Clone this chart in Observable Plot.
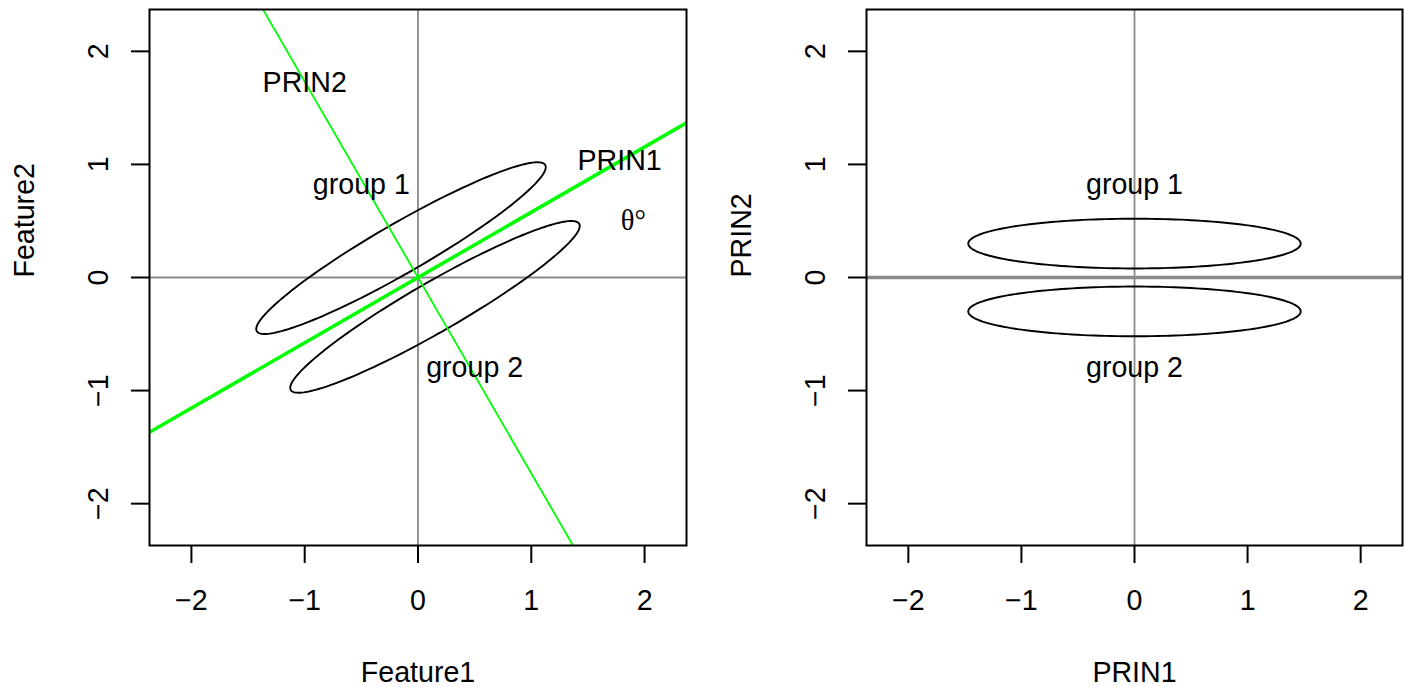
<!DOCTYPE html>
<html>
<head>
<meta charset="utf-8">
<script src="https://cdn.jsdelivr.net/npm/d3@7"></script>
<script src="https://cdn.jsdelivr.net/npm/@observablehq/plot@0.6"></script>
<style>
  body { margin: 0; background: #ffffff; }
  #wrap { display: flex; width: 1404px; height: 687px; }
</style>
</head>
<body>
<div id="wrap"></div>
<script>
// ---- data ----
const tickValues = [-2, -1, 0, 1, 2];
const tickLabels = ["−2", "−1", "0", "1", "2"];

const groups = ["group 1", "group 2"];
const groupCenterPrin1 = [0, 0];
const groupCenterPrin2 = [0.3, -0.3];
const groupSemiMajor = [1.47, 1.47];
const groupSemiMinor = [0.22, 0.22];

const thetaDeg = 30; // rotation of principal axes in the feature panel

const leftLabels = ["PRIN2", "PRIN1", "θ°", "group 1", "group 2"];
const leftLabelX = [-1.0, 1.78, 1.9, -0.5, 0.5];
const leftLabelY = [1.72, 1.03, 0.5, 0.82, -0.8];

const rightLabels = ["group 1", "group 2"];
const rightLabelX = [0, 0];
const rightLabelY = [0.82, -0.8];

const xTitles = ["Feature1", "PRIN1"];
const yTitles = ["Feature2", "PRIN2"];

// ---- helpers ----
const FONT = "Liberation Sans, Arimo, Helvetica, Arial, sans-serif";
const FS = 28.6;
const labelOf = v => tickLabels[tickValues.indexOf(v)];

function ellipsePoints(angleDeg) {
  const th = angleDeg * Math.PI / 180;
  const pts = [];
  groups.forEach((g, i) => {
    for (let k = 0; k <= 180; k++) {
      const t = (k / 180) * 2 * Math.PI;
      const p1 = groupCenterPrin1[i] + groupSemiMajor[i] * Math.cos(t);
      const p2 = groupCenterPrin2[i] + groupSemiMinor[i] * Math.sin(t);
      pts.push({
        group: g,
        x: p1 * Math.cos(th) - p2 * Math.sin(th),
        y: p1 * Math.sin(th) + p2 * Math.cos(th)
      });
    }
  });
  return pts;
}

function axisLine(dirDeg, extent) {
  const th = dirDeg * Math.PI / 180;
  return [-extent, extent].map(t => ({x: t * Math.cos(th), y: t * Math.sin(th)}));
}

function panel({marginLeft, marginRight, domain, xTitle, yTitle, marks}) {
  return Plot.plot({
    width: 702,
    height: 687,
    marginLeft,
    marginRight,
    marginTop: 9,
    marginBottom: 142,
    style: {fontFamily: FONT, fontSize: FS + "px", background: "#ffffff", color: "black"},
    x: {domain, label: null},
    y: {domain, label: null},
    marks: [
      ...marks,
      Plot.frame({stroke: "black", strokeWidth: 2}),
      Plot.axisX({ticks: tickValues, tickSize: 18, tickPadding: 26, strokeWidth: 2,
                  tickFormat: labelOf, fontSize: FS, label: null}),
      Plot.axisY({ticks: tickValues, tickSize: 18, strokeWidth: 2,
                  tickFormat: () => "", label: null}),
      Plot.text(tickValues, {y: d => d, text: labelOf, frameAnchor: "left", dx: -42,
                             rotate: -90, lineAnchor: "bottom", textAnchor: "middle",
                             fontSize: FS, fontFamily: FONT, fill: "black"}),
      Plot.text([xTitle], {frameAnchor: "bottom", dy: 136, lineAnchor: "bottom",
                           fontSize: FS, fontFamily: FONT, fill: "black"}),
      Plot.text([yTitle], {frameAnchor: "left", dx: -116, rotate: -90, lineAnchor: "bottom",
                           fontSize: FS, fontFamily: FONT, fill: "black"})
    ]
  });
}

const GRAY = "#8a8a8a";
const GREEN = "#00ff00";

// ---- left panel: feature space ----
const leftTexts = leftLabels.map((t, i) => ({t, x: leftLabelX[i], y: leftLabelY[i]}));
const left = panel({
  marginLeft: 149, marginRight: 16, domain: [-2.37, 2.37],
  xTitle: xTitles[0], yTitle: yTitles[0],
  marks: [
    Plot.ruleX([0], {stroke: GRAY, strokeWidth: 1.8}),
    Plot.ruleY([0], {stroke: GRAY, strokeWidth: 1.8}),
    Plot.line(ellipsePoints(thetaDeg), {x: "x", y: "y", z: "group", stroke: "black", strokeWidth: 1.9}),
    Plot.line(axisLine(thetaDeg, 6), {x: "x", y: "y", stroke: GREEN, strokeWidth: 3.6, clip: true}),
    Plot.line(axisLine(thetaDeg + 90, 6), {x: "x", y: "y", stroke: GREEN, strokeWidth: 1.8, clip: true}),
    Plot.text(leftTexts.filter(d => d.t !== "θ°"), {x: "x", y: "y", text: "t", fontSize: FS, fontFamily: FONT, fill: "black"}),
    Plot.text(leftTexts.filter(d => d.t === "θ°"), {x: "x", y: "y", text: "t", fontSize: FS, fontFamily: "Liberation Serif, DejaVu Serif, serif", fill: "black"})
  ]
});

// ---- right panel: principal component space ----
const rightTexts = rightLabels.map((t, i) => ({t, x: rightLabelX[i], y: rightLabelY[i]}));
const right = panel({
  marginLeft: 164, marginRight: 2, domain: [-2.37, 2.37],
  xTitle: xTitles[1], yTitle: yTitles[1],
  marks: [
    Plot.ruleX([0], {stroke: GRAY, strokeWidth: 1.8}),
    Plot.ruleY([0], {stroke: GRAY, strokeWidth: 3.6}),
    Plot.line(ellipsePoints(0), {x: "x", y: "y", z: "group", stroke: "black", strokeWidth: 1.9}),
    Plot.text(rightTexts, {x: "x", y: "y", text: "t", fontSize: FS, fontFamily: FONT, fill: "black"})
  ]
});

const wrap = document.getElementById("wrap");
wrap.appendChild(left);
wrap.appendChild(right);
</script>
</body>
</html>
